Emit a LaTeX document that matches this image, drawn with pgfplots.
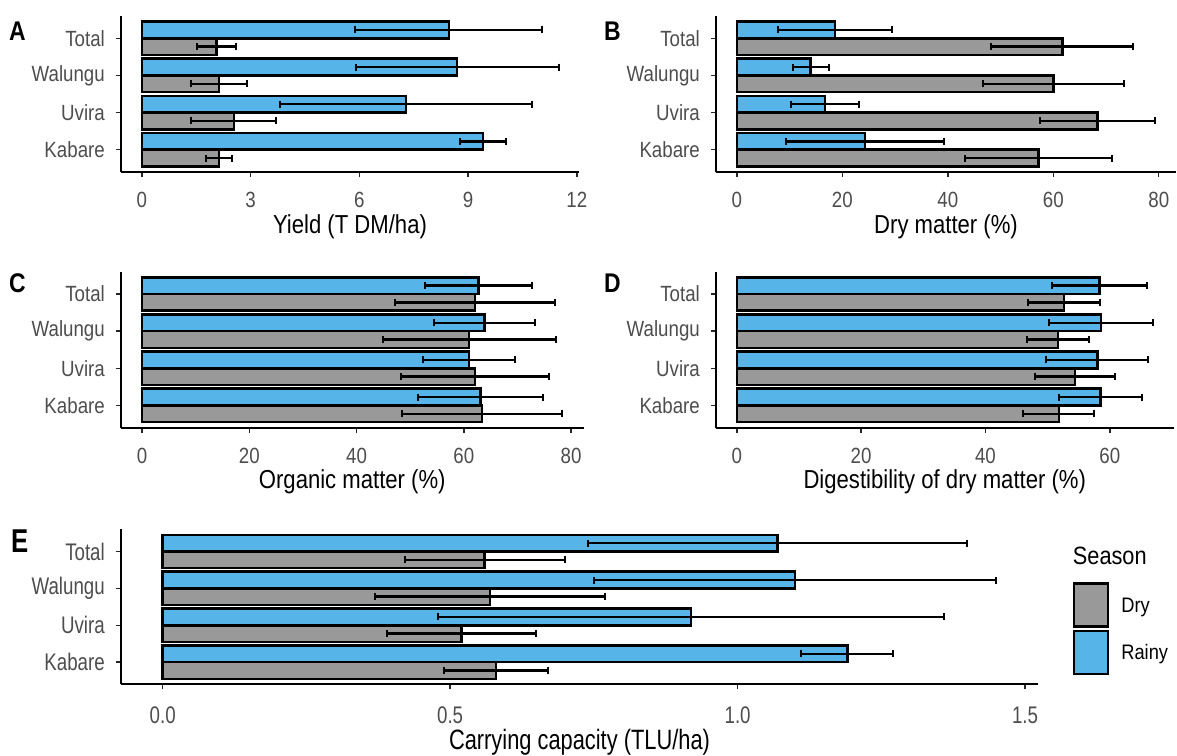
\documentclass[border=0pt]{standalone}
\usepackage{fontspec}
\setmainfont{Liberation Sans}[FakeStretch=0.85]
\newfontfamily\efont{Liberation Sans}[FakeStretch=0.78]
\newfontfamily\lfont{Liberation Sans}[FakeStretch=0.87]
\usepackage{pgfplots}
\pgfplotsset{compat=1.18}
\definecolor{rainy}{HTML}{56B4E9}
\definecolor{dry}{HTML}{999999}
\definecolor{tickgrey}{HTML}{4D4D4D}

\pgfplotsset{
  panel/.style={
    scale only axis, height=156pt,
    xbar, bar width=0.45,
    ymin=0.4, ymax=4.6, enlargelimits=false,
    ytick={1,2,3,4}, yticklabels={Kabare,Uvira,Walungu,Total},
    axis x line*=bottom, axis y line*=left,
    axis line style={line width=1.8pt, -},
    tick align=outside, major tick length=5pt,
    tick style={line width=1.4pt, black!85},
    xticklabel style={font=\fontsize{22}{26}\selectfont, text=tickgrey, anchor=north, inner sep=0pt, yshift=-15pt},
    yticklabel style={font=\fontsize{22}{26}\selectfont, text=tickgrey, anchor=east, inner sep=0pt, xshift=-11pt},
    xlabel style={font=\fontsize{26}{30}\selectfont, at={(axis description cs:0.5,0)}, anchor=north, inner sep=0pt, yshift=-42pt},
    clip=false,
  },
  rainybar/.style={fill=rainy, draw=black, line width=2.5pt, bar shift=0.225,
    error bars/x dir=both, error bars/x explicit,
    error bars/error bar style={line width=2.5pt, black},
    error bars/error mark options={line width=2pt, mark size=3.5pt, black, rotate=90}},
  drybar/.style={fill=dry, draw=black, line width=2.5pt, bar shift=-0.225,
    error bars/x dir=both, error bars/x explicit,
    error bars/error bar style={line width=2.5pt, black},
    error bars/error mark options={line width=2pt, mark size=3.5pt, black, rotate=90}},
}

\begin{document}
\begin{tikzpicture}
\useasboundingbox (0,0) rectangle (1177pt,755pt);

% ---------------- A ----------------
\begin{axis}[panel, at={(121pt,583pt)}, anchor=south west, width=458pt,
  xmin=-0.5745, xmax=12.06, xtick={0,3,6,9,12}, xticklabels={0,3,6,9,12},
  xlabel={Yield (T DM/ha)}]
\addplot[drybar] coordinates {(2.13,1) +- (0.36,0) (2.54,2) +- (1.17,0) (2.13,3) +- (0.77,0) (2.06,4) +- (0.54,0)};
\addplot[rainybar] coordinates {(9.41,1) +- (0.63,0) (7.29,2) +- (3.47,0) (8.70,3) +- (2.80,0) (8.47,4) +- (2.58,0)};
\end{axis}

% ---------------- B ----------------
\begin{axis}[panel, at={(716pt,583pt)}, anchor=south west, width=460pt,
  xmin=-3.965, xmax=83.27, xtick={0,20,40,60,80}, xticklabels={0,20,40,60,80},
  xlabel={Dry matter (\%)}]
\addplot[drybar] coordinates {(57.2,1) +- (13.9,0) (68.4,2) +- (10.85,0) (60.0,3) +- (13.35,0) (61.7,4) +- (13.5,0)};
\addplot[rainybar] coordinates {(24.3,1) +- (15.05,0) (16.7,2) +- (6.5,0) (14.0,3) +- (3.45,0) (18.6,4) +- (10.85,0)};
\end{axis}

% ---------------- C ----------------
\begin{axis}[panel, at={(121pt,327.3pt)}, anchor=south west, width=462.5pt,
  xmin=-3.92, xmax=82.32, xtick={0,20,40,60,80}, xticklabels={0,20,40,60,80},
  xlabel={Organic matter (\%)}]
\addplot[drybar] coordinates {(63.4,1) +- (15.0,0) (62.1,2) +- (13.75,0) (61.0,3) +- (16.1,0) (62.1,4) +- (14.85,0)};
\addplot[rainybar] coordinates {(63.1,1) +- (11.65,0) (61.0,2) +- (8.6,0) (63.9,3) +- (9.45,0) (62.7,4) +- (10.0,0)};
\end{axis}

% ---------------- D ----------------
\begin{axis}[panel, at={(716pt,327.3pt)}, anchor=south west, width=457.5pt,
  xmin=-3.345, xmax=70.245, xtick={0,20,40,60}, xticklabels={0,20,40,60},
  xlabel={Digestibility of dry matter (\%)}]
\addplot[drybar] coordinates {(51.8,1) +- (5.7,0) (54.4,2) +- (6.4,0) (51.7,3) +- (5.0,0) (52.6,4) +- (5.75,0)};
\addplot[rainybar] coordinates {(58.5,1) +- (6.75,0) (58.0,2) +- (8.2,0) (58.6,3) +- (8.35,0) (58.3,4) +- (7.65,0)};
\end{axis}

% ---------------- E ----------------
\begin{axis}[panel, at={(121pt,70.7pt)}, anchor=south west, width=917pt, height=155pt,
  xmin=-0.0725, xmax=1.5225, xtick={0,0.5,1,1.5}, xticklabels={0.0,0.5,1.0,1.5},
  xticklabel style={font=\efont\fontsize{24}{28}\selectfont, yshift=-2pt},
  yticklabel style={font=\efont\fontsize{24}{28}\selectfont},
  xlabel style={font=\efont\fontsize{28}{32}\selectfont, yshift=-3pt},
  xlabel={Carrying capacity (TLU/ha)},
  legend style={at={(rel axis cs:1.038,0.658)}, anchor=north west, draw=none, fill=none,
    inner sep=0pt, outer sep=0pt, row sep=2pt, column sep=12pt,
    font=\lfont\fontsize{21}{24}\selectfont, nodes={inner sep=0pt}},
  legend cell align=left]
\addplot[drybar, forget plot] coordinates {(0.580,1) +- (0.09,0) (0.520,2) +- (0.13,0) (0.569,3) +- (0.20,0) (0.560,4) +- (0.139,0)};
\addplot[rainybar, forget plot] coordinates {(1.191,1) +- (0.08,0) (0.919,2) +- (0.44,0) (1.10,3) +- (0.35,0) (1.069,4) +- (0.33,0)};
\addlegendimage{legend image code/.code={\draw[fill=dry, draw=black, line width=2.5pt] (0pt,-21pt) rectangle (34pt,22pt);}}
\addlegendentry{Dry}
\addlegendimage{legend image code/.code={\draw[fill=rainy, draw=black, line width=2.5pt] (0pt,-21pt) rectangle (34pt,22pt);}}
\addlegendentry{Rainy}
\end{axis}

% panel letters and legend title
\node[anchor=base west, inner sep=0pt, font=\fontsize{27}{30}\selectfont\bfseries] at (9pt,714.3pt) {A};
\node[anchor=base west, inner sep=0pt, font=\fontsize{27}{30}\selectfont\bfseries] at (604pt,714.3pt) {B};
\node[anchor=base west, inner sep=0pt, font=\fontsize{27}{30}\selectfont\bfseries] at (9pt,462pt) {C};
\node[anchor=base west, inner sep=0pt, font=\fontsize{27}{30}\selectfont\bfseries] at (604pt,462pt) {D};
\node[anchor=base west, inner sep=0pt, font=\efont\fontsize{33}{36}\selectfont\bfseries] at (11pt,202pt) {E};
\node[anchor=base west, inner sep=0pt, font=\lfont\fontsize{25}{28}\selectfont] at (1072.7pt,190pt) {Season};
\end{tikzpicture}
\end{document}
